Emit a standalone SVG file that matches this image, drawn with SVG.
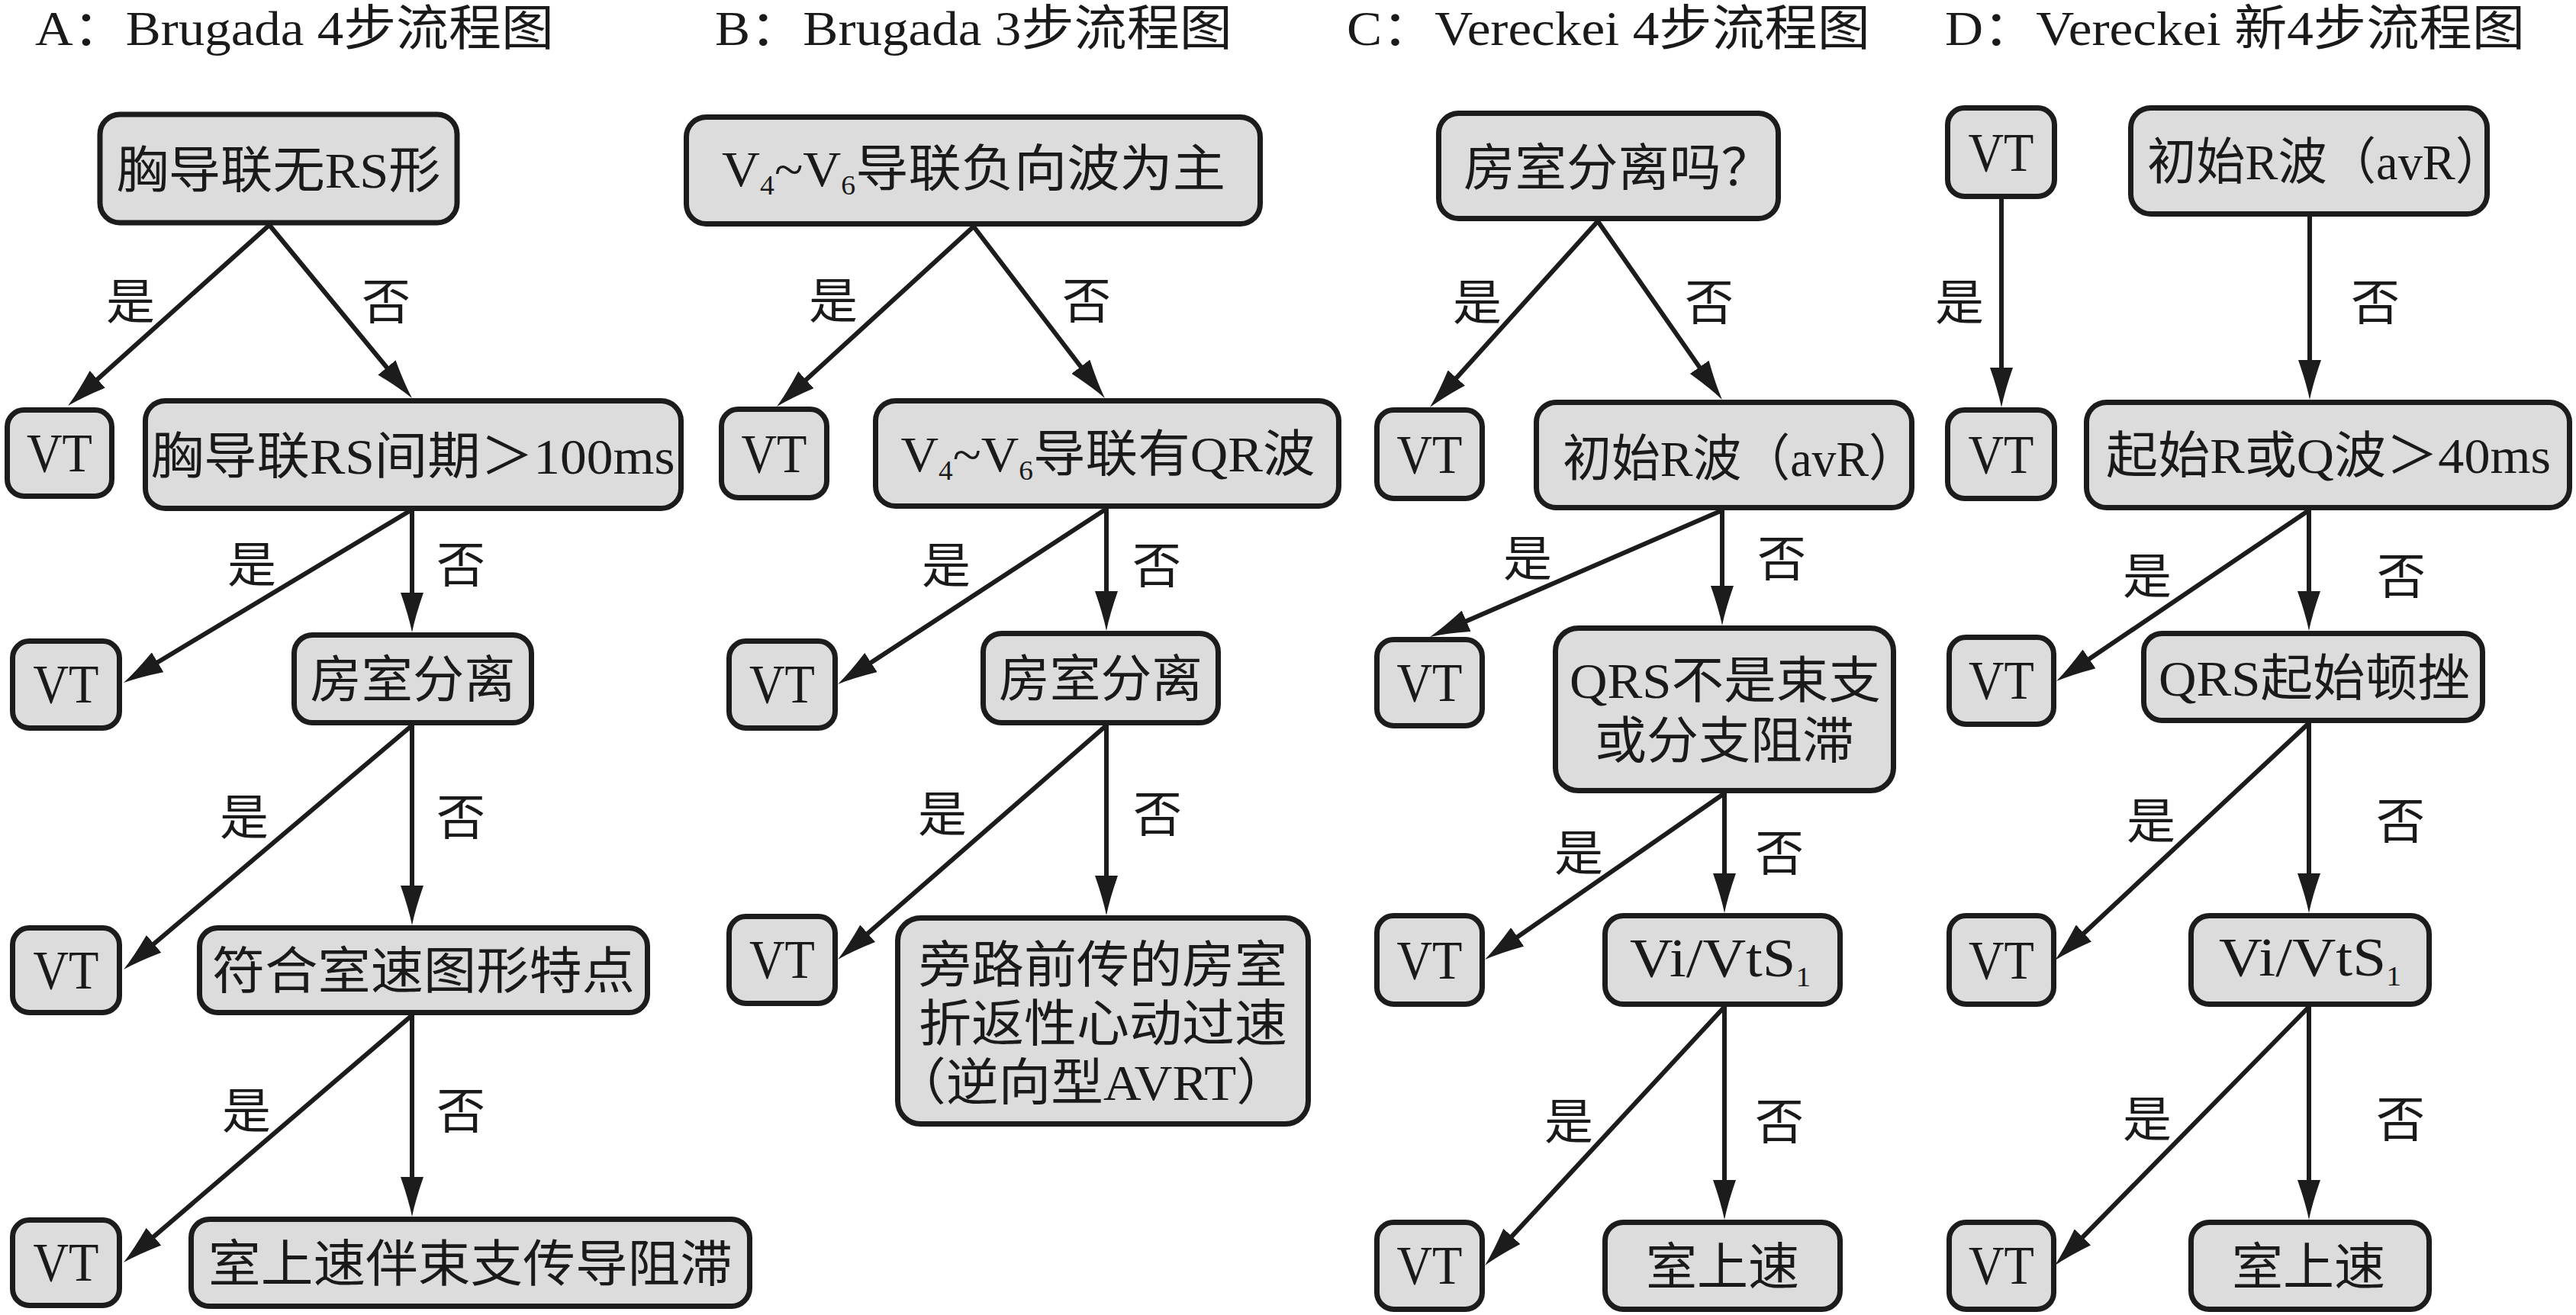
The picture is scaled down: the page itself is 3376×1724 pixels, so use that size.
<svg xmlns="http://www.w3.org/2000/svg" width="3376" height="1724" viewBox="0 0 3376 1724">
<defs>
<style>
.bg{fill:#ffffff}
.box{fill:#dcdcdc;stroke:#1c1c1c;stroke-width:7}
text{font-family:"Liberation Serif","Noto Sans CJK SC",serif;fill:#1a1a1a}
.t{font-size:66px}
.vt{font-size:72px}
.lbl{font-size:64px}
.ttl{font-size:64px}
.sub{font-size:36px}
.mid{text-anchor:middle}
.conn path{stroke:#1c1c1c;stroke-width:6;fill:none;marker-end:url(#ah)}
</style>
<marker id="ah" markerUnits="userSpaceOnUse" viewBox="0 0 52 30" markerWidth="52" markerHeight="30" refX="30" refY="15" orient="auto">
<path d="M0,0 Q30,10.5 52,15 Q30,19.5 0,30 Z" fill="#1c1c1c"/>
</marker>
</defs>
<rect class="bg" x="0" y="0" width="3376" height="1724"/>

<g id="titles">
<text class="ttl" x="46" y="59" textLength="680" lengthAdjust="spacingAndGlyphs">A：Brugada 4步流程图</text>
<text class="ttl" x="937" y="59" textLength="678" lengthAdjust="spacingAndGlyphs">B：Brugada 3步流程图</text>
<text class="ttl" x="1765" y="59" textLength="686" lengthAdjust="spacingAndGlyphs">C：Vereckei 4步流程图</text>
<text class="ttl" x="2549" y="59" textLength="760" lengthAdjust="spacingAndGlyphs">D：Vereckei 新4步流程图</text>
</g>

<g id="connectors" class="conn">
<path d="M353,295 L105.4,517.3"/>
<path d="M353,295 L526,505"/>
<path d="M540,668 L540,807"/>
<path d="M540,668 L180.9,883.7"/>
<path d="M540,951 L540,1191"/>
<path d="M540,951 L178.8,1256.8"/>
<path d="M540,1331 L540,1573"/>
<path d="M540,1331 L178.7,1640.7"/>

<path d="M1276,297 L1034.2,518.2"/>
<path d="M1276,297 L1434.6,504.5"/>
<path d="M1450,667 L1450,805"/>
<path d="M1450,667 L1116.4,885"/>
<path d="M1450,951 L1450,1178"/>
<path d="M1450,951 L1114.6,1243.5"/>

<path d="M2094,290 L1888.7,517.7"/>
<path d="M2094,290 L2244.4,505.9"/>
<path d="M2257,669 L2257,798"/>
<path d="M2257,669 L1894.2,826.2"/>
<path d="M2260,1040 L2260,1175"/>
<path d="M2260,1040 L1964.1,1245.5"/>
<path d="M2260,1320 L2260,1577"/>
<path d="M2260,1320 L1961,1642.9"/>

<path d="M2623,261 L2623,512"/>
<path d="M3027,284 L3027,502"/>
<path d="M3026,669 L3026,805"/>
<path d="M3026,669 L2713.2,880.7"/>
<path d="M3026,948 L3026,1175"/>
<path d="M3026,948 L2709.1,1244"/>
<path d="M3026,1320 L3026,1577"/>
<path d="M3026,1320 L2708.4,1643.3"/>

<g id="edge-labels">
<text class="lbl mid" x="171" y="418">是</text>
<text class="lbl mid" x="506" y="418">否</text>
<text class="lbl mid" x="330" y="763">是</text>
<text class="lbl mid" x="604" y="763">否</text>
<text class="lbl mid" x="320" y="1094">是</text>
<text class="lbl mid" x="604" y="1094">否</text>
<text class="lbl mid" x="323" y="1479">是</text>
<text class="lbl mid" x="604" y="1479">否</text>

<text class="lbl mid" x="1092" y="417">是</text>
<text class="lbl mid" x="1424" y="417">否</text>
<text class="lbl mid" x="1240" y="764">是</text>
<text class="lbl mid" x="1516" y="764">否</text>
<text class="lbl mid" x="1235" y="1090">是</text>
<text class="lbl mid" x="1517" y="1090">否</text>

<text class="lbl mid" x="1936" y="419">是</text>
<text class="lbl mid" x="2240" y="419">否</text>
<text class="lbl mid" x="2002" y="755">是</text>
<text class="lbl mid" x="2335" y="755">否</text>
<text class="lbl mid" x="2069" y="1141">是</text>
<text class="lbl mid" x="2332" y="1141">否</text>
<text class="lbl mid" x="2056" y="1493">是</text>
<text class="lbl mid" x="2332" y="1493">否</text>

<text class="lbl mid" x="2568" y="419">是</text>
<text class="lbl mid" x="3113" y="419">否</text>
<text class="lbl mid" x="2814" y="778">是</text>
<text class="lbl mid" x="3147" y="778">否</text>
<text class="lbl mid" x="2819" y="1099">是</text>
<text class="lbl mid" x="3146" y="1099">否</text>
<text class="lbl mid" x="2814" y="1490">是</text>
<text class="lbl mid" x="3146" y="1490">否</text>
</g>
</g>

<!-- Panel A -->
<g id="nA1"><rect class="box" x="131" y="150" width="468" height="142" rx="26"/><text class="t mid" x="365" y="246" textLength="425" lengthAdjust="spacingAndGlyphs">胸导联无RS形</text></g>
<g id="nA_vt1"><rect class="box" x="9.5" y="537.5" width="137" height="113" rx="22"/><text class="vt mid" x="78" y="618" textLength="86" lengthAdjust="spacingAndGlyphs">VT</text></g>
<g id="nA2"><rect class="box" x="190.5" y="525.5" width="702" height="141" rx="26"/><text class="t mid" x="541" y="621" textLength="687" lengthAdjust="spacingAndGlyphs">胸导联RS间期＞100ms</text></g>
<g id="nA_vt2"><rect class="box" x="16.5" y="840.5" width="140" height="114" rx="22"/><text class="vt mid" x="86.5" y="921" textLength="86" lengthAdjust="spacingAndGlyphs">VT</text></g>
<g id="nA3"><rect class="box" x="385.5" y="832.5" width="311" height="115" rx="24"/><text class="t mid" x="541" y="914" textLength="269" lengthAdjust="spacingAndGlyphs">房室分离</text></g>
<g id="nA_vt3"><rect class="box" x="16.5" y="1216.5" width="140" height="111" rx="22"/><text class="vt mid" x="86.5" y="1296" textLength="86" lengthAdjust="spacingAndGlyphs">VT</text></g>
<g id="nA4"><rect class="box" x="261.5" y="1216.5" width="587" height="111" rx="24"/><text class="t mid" x="555" y="1296" textLength="554" lengthAdjust="spacingAndGlyphs">符合室速图形特点</text></g>
<g id="nA_vt4"><rect class="box" x="16.5" y="1599.5" width="140" height="112" rx="22"/><text class="vt mid" x="86.5" y="1679" textLength="86" lengthAdjust="spacingAndGlyphs">VT</text></g>
<g id="nA5"><rect class="box" x="250.5" y="1598.5" width="732" height="114" rx="24"/><text class="t mid" x="616.5" y="1680" textLength="687" lengthAdjust="spacingAndGlyphs">室上速伴束支传导阻滞</text></g>

<!-- Panel B -->
<g id="nB1"><rect class="box" x="899.5" y="153.5" width="752" height="140" rx="26"/><text class="t mid" x="1276" y="244" textLength="660" lengthAdjust="spacingAndGlyphs">V<tspan class="sub" dy="11">4</tspan><tspan dy="-11">~V</tspan><tspan class="sub" dy="11">6</tspan><tspan dy="-11">导联负向波为主</tspan></text></g>
<g id="nB_vt1"><rect class="box" x="945.5" y="536.5" width="138" height="116" rx="22"/><text class="vt mid" x="1014.5" y="619" textLength="86" lengthAdjust="spacingAndGlyphs">VT</text></g>
<g id="nB2"><rect class="box" x="1147.5" y="525.5" width="607" height="138" rx="26"/><text class="t mid" x="1452" y="618" textLength="543" lengthAdjust="spacingAndGlyphs">V<tspan class="sub" dy="11">4</tspan><tspan dy="-11">~V</tspan><tspan class="sub" dy="11">6</tspan><tspan dy="-11">导联有QR波</tspan></text></g>
<g id="nB_vt2"><rect class="box" x="955.5" y="840.5" width="139" height="114" rx="22"/><text class="vt mid" x="1025" y="921" textLength="86" lengthAdjust="spacingAndGlyphs">VT</text></g>
<g id="nB3"><rect class="box" x="1288.5" y="830.5" width="308" height="117" rx="24"/><text class="t mid" x="1442.5" y="913" textLength="267" lengthAdjust="spacingAndGlyphs">房室分离</text></g>
<g id="nB_vt3"><rect class="box" x="955.5" y="1201.5" width="139" height="114" rx="22"/><text class="vt mid" x="1025" y="1282" textLength="86" lengthAdjust="spacingAndGlyphs">VT</text></g>
<g id="nB4"><rect class="box" x="1176.5" y="1203.5" width="538" height="270" rx="30"/>
<text class="t mid" x="1445.5" y="1288" textLength="483" lengthAdjust="spacingAndGlyphs">旁路前传的房室</text>
<text class="t mid" x="1445.5" y="1365" textLength="483" lengthAdjust="spacingAndGlyphs">折返性心动过速</text>
<text class="t mid" x="1430" y="1442" textLength="518" lengthAdjust="spacingAndGlyphs">（逆向型AVRT）</text></g>

<!-- Panel C -->
<g id="nC1"><rect class="box" x="1885.5" y="148.5" width="445" height="138" rx="26"/><text class="t" x="1918" y="243" textLength="405" lengthAdjust="spacingAndGlyphs">房室分离吗？</text></g>
<g id="nC_vt1"><rect class="box" x="1804.5" y="537.5" width="138" height="116" rx="22"/><text class="vt mid" x="1873.5" y="620" textLength="86" lengthAdjust="spacingAndGlyphs">VT</text></g>
<g id="nC2"><rect class="box" x="2013.5" y="527.5" width="492" height="138" rx="26"/><text class="t" x="2048" y="624" textLength="465" lengthAdjust="spacingAndGlyphs">初始R波（avR）</text></g>
<g id="nC_vt2"><rect class="box" x="1804.5" y="838.5" width="138" height="113" rx="22"/><text class="vt mid" x="1873.5" y="919" textLength="86" lengthAdjust="spacingAndGlyphs">VT</text></g>
<g id="nC3"><rect class="box" x="2038.5" y="823.5" width="443" height="213" rx="30"/>
<text class="t mid" x="2261" y="915" textLength="408" lengthAdjust="spacingAndGlyphs">QRS不是束支</text>
<text class="t mid" x="2260" y="994" textLength="340" lengthAdjust="spacingAndGlyphs">或分支阻滞</text></g>
<g id="nC_vt3"><rect class="box" x="1804.5" y="1200.5" width="138" height="116" rx="22"/><text class="vt mid" x="1873.5" y="1283" textLength="86" lengthAdjust="spacingAndGlyphs">VT</text></g>
<g id="nC4"><rect class="box" x="2103.5" y="1200.5" width="308" height="116" rx="24"/><text class="vt" x="2136" y="1280" textLength="237" lengthAdjust="spacingAndGlyphs">Vi/VtS<tspan class="sub" dy="13">1</tspan></text></g>
<g id="nC_vt4"><rect class="box" x="1804.5" y="1602.5" width="138" height="114" rx="22"/><text class="vt mid" x="1873.5" y="1683" textLength="86" lengthAdjust="spacingAndGlyphs">VT</text></g>
<g id="nC5"><rect class="box" x="2103.5" y="1602.5" width="308" height="114" rx="24"/><text class="t mid" x="2257.5" y="1684" textLength="201" lengthAdjust="spacingAndGlyphs">室上速</text></g>

<!-- Panel D -->
<g id="nD_vt1"><rect class="box" x="2552.5" y="141.5" width="140" height="116" rx="22"/><text class="vt mid" x="2622.5" y="224" textLength="86" lengthAdjust="spacingAndGlyphs">VT</text></g>
<g id="nD1"><rect class="box" x="2792.5" y="141.5" width="467" height="139" rx="26"/><text class="t" x="2814" y="235" textLength="468" lengthAdjust="spacingAndGlyphs">初始R波（avR）</text></g>
<g id="nD_vt2"><rect class="box" x="2552.5" y="537.5" width="140" height="116" rx="22"/><text class="vt mid" x="2622.5" y="620" textLength="86" lengthAdjust="spacingAndGlyphs">VT</text></g>
<g id="nD2"><rect class="box" x="2734.5" y="527.5" width="633" height="138" rx="26"/><text class="t mid" x="3051.5" y="620" textLength="583" lengthAdjust="spacingAndGlyphs">起始R或Q波＞40ms</text></g>
<g id="nD_vt3"><rect class="box" x="2554.5" y="835.5" width="137" height="114" rx="22"/><text class="vt mid" x="2623" y="916" textLength="86" lengthAdjust="spacingAndGlyphs">VT</text></g>
<g id="nD3"><rect class="box" x="2809.5" y="830.5" width="444" height="114" rx="24"/><text class="t mid" x="3033" y="912" textLength="408" lengthAdjust="spacingAndGlyphs">QRS起始顿挫</text></g>
<g id="nD_vt4"><rect class="box" x="2554.5" y="1200.5" width="137" height="116" rx="22"/><text class="vt mid" x="2623" y="1283" textLength="86" lengthAdjust="spacingAndGlyphs">VT</text></g>
<g id="nD4"><rect class="box" x="2871.5" y="1200.5" width="312" height="116" rx="24"/><text class="vt" x="2908" y="1279" textLength="239" lengthAdjust="spacingAndGlyphs">Vi/VtS<tspan class="sub" dy="13">1</tspan></text></g>
<g id="nD_vt5"><rect class="box" x="2554.5" y="1602.5" width="137" height="114" rx="22"/><text class="vt mid" x="2623" y="1683" textLength="86" lengthAdjust="spacingAndGlyphs">VT</text></g>
<g id="nD5"><rect class="box" x="2871.5" y="1602.5" width="312" height="114" rx="24"/><text class="t mid" x="3025.5" y="1684" textLength="201" lengthAdjust="spacingAndGlyphs">室上速</text></g>
</svg>
